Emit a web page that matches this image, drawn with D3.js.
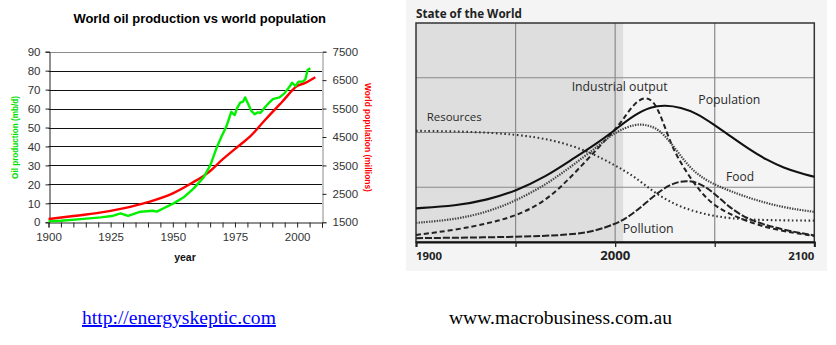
<!DOCTYPE html>
<html><head><meta charset="utf-8">
<script src="https://cdn.jsdelivr.net/npm/d3@7"></script>
<style>body{margin:0;background:#fff}svg{display:block}</style>
</head><body>
<svg id="c" width="836" height="345"></svg>
<script>
// ---------- Left chart data ----------
const oilYears = [1900,1905,1913,1921,1925.5,1929,1932,1937,1942,1943.6,1946.3,1950.3,1954.4,1958.4,1962.4,1965.1,1967.8,1969.5,1971.5,1973.5,1974.9,1975.8,1977.1,1978.2,1979.1,1980.5,1981.5,1982.9,1984.2,1985.3,1986.9,1988.9,1990.2,1992.9,1994.9,1996.9,1998,1999.3,2000.6,2002.2,2003.3,2004.2,2005.3];
const oilValues = [0.5,0.8,1.7,2.6,3.3,4.7,3.4,5.6,6.1,5.6,7.4,10.0,13.2,17.9,23.7,30.2,39.9,45,50.4,58.3,56.6,60.1,63.1,63.6,65.9,61.9,58.9,57,58,57.8,60.4,63.3,65,65.9,68,71.5,73.6,71.9,74.2,74.2,75.4,80.3,81.2];
const popYears = [1900,1910,1920,1930,1940,1950,1958,1964,1970,1977,1981,1987,1994,2000,2003.5,2007.3];
const popValues = [1616,1720,1830,1990,2210,2520,2900,3230,3710,4220,4510,5090,5740,6290,6410,6600];
const oilTicks = [0,10,20,30,40,50,60,70,80,90];
const popTicks = [1500,2500,3500,4500,5500,6500,7500];
const yearTicks = [1900,1925,1950,1975,2000];

// ---------- Right chart data (State of the World) ----------
const sowYears = {
  population:[1900,1920,1936,1950,1965,1978,1992,2000,2010,2018,2025,2033,2041,2049,2058,2067,2076,2085,2092,2100],
  food:[1900,1920,1936,1950,1965,1978,1992,2000,2010,2016,2022,2027,2032,2037,2043,2050,2067,2084,2100],
  industrial:[1900,1920,1936,1950,1965,1978,1992,2000,2005,2010,2015,2019,2022,2025,2029,2035,2042,2050,2064,2080,2100],
  pollution:[1900,1950,1978,1990,2000,2005,2010,2015,2020,2028,2036,2042,2049,2057,2067,2084,2100],
  resources:[1900,1925,1950,1970,1987,2000,2010,2020,2033,2050,2067,2100]
};
const sowValues = {
  population:[0.615,0.66,0.77,0.93,1.19,1.50,1.83,2.05,2.33,2.47,2.50,2.46,2.35,2.16,1.93,1.70,1.50,1.35,1.27,1.19],
  food:[0.35,0.41,0.55,0.75,1.04,1.38,1.77,2.01,2.16,2.14,2.06,1.85,1.62,1.38,1.19,1.04,0.80,0.63,0.55],
  industrial:[0.13,0.22,0.34,0.47,0.74,1.19,1.74,2.05,2.29,2.55,2.65,2.58,2.38,2.10,1.70,1.32,0.95,0.64,0.40,0.22,0.11],
  pollution:[0.07,0.09,0.13,0.20,0.33,0.42,0.55,0.70,0.86,1.07,1.13,1.08,0.92,0.64,0.40,0.22,0.12],
  resources:[2.03,2.02,1.97,1.86,1.65,1.40,1.19,0.89,0.62,0.46,0.40,0.39]
};
const sowLabels = ["Resources","Industrial output","Population","Food","Pollution"];
const sowYearTicks = [1900,2000,2100];

const svg = d3.select("#c");
function fit(sel, w){ const n=sel.node(); const L=n.getComputedTextLength(); const fs=parseFloat(sel.attr("font-size")); sel.attr("font-size", fs*w/L); return sel; }

// ================= LEFT CHART =================
const L = svg.append("g");
const xL = d3.scaleLinear().domain([1900,2010]).range([48.5,322]);
const yL = d3.scaleLinear().domain([0,90]).range([222.3,51.7]);
const yR = d3.scaleLinear().domain([1500,7500]).range([222.3,51.7]);

// gridlines
L.append("g").selectAll("line").data(oilTicks.filter(d=>d>0)).join("line")
  .attr("x1",xL(1900)).attr("x2",xL(2010))
  .attr("y1",d=>Math.round(yL(d))+0.5).attr("y2",d=>Math.round(yL(d))+0.5)
  .attr("stroke",d=>d===90?"#8c8c8c":"#111").attr("stroke-width",1.1);

// left axis
const axL = L.append("g").attr("transform",`translate(${Math.round(xL(1900))+0.5},0)`)
  .call(d3.axisLeft(yL).tickValues(oilTicks).tickSize(4).tickPadding(5));
// right axis
const axR = L.append("g").attr("transform",`translate(${Math.round(xL(2010))+0.5},0)`)
  .call(d3.axisRight(yR).tickValues(popTicks).tickSize(4).tickPadding(6).tickFormat(d3.format("d")));
// bottom axis
const axB = L.append("g").attr("transform",`translate(0,${Math.round(yL(0))+0.5})`)
  .call(d3.axisBottom(xL).tickValues(d3.range(1900,2011,5)).tickSize(5).tickPadding(4)
    .tickFormat(d=>yearTicks.includes(d)?d:""));
[axL,axR,axB].forEach(a=>{
  a.select(".domain").attr("stroke","#222");
  a.selectAll(".tick line").attr("stroke","#222");
  a.selectAll("text").attr("font-family","Liberation Sans, Arial, sans-serif").attr("font-size",11.5).attr("fill","#333");
});
axR.select(".domain").attr("stroke","#8a8a8a");
axB.selectAll("text").attr("dy","0.85em");

// lines
L.append("path").datum(popYears.map((y,i)=>[y,popValues[i]]))
  .attr("d",d3.line().x(d=>xL(d[0])).y(d=>yR(d[1])).curve(d3.curveMonotoneX))
  .attr("fill","none").attr("stroke","#ff0000").attr("stroke-width",2.4);
L.append("path").datum(oilYears.map((y,i)=>[y,oilValues[i]]))
  .attr("d",d3.line().x(d=>xL(d[0])).y(d=>yL(d[1])))
  .attr("fill","none").attr("stroke","#00f000").attr("stroke-width",2.4).attr("stroke-linejoin","round");

// titles
fit(L.append("text").attr("x",199.7).attr("y",23).attr("text-anchor","middle")
  .attr("font-family","Liberation Sans, Arial, sans-serif").attr("font-weight","bold").attr("font-size",12)
  .attr("fill","#000").text("World oil production vs world population"),253);
fit(L.append("text").attr("transform","translate(18,137.5) rotate(-90)").attr("text-anchor","middle")
  .attr("font-family","Liberation Sans, Arial, sans-serif").attr("font-weight","bold").attr("font-size",8)
  .attr("fill","#00e000").text("Oil production (mb/d)"),83);
fit(L.append("text").attr("transform","translate(364.5,137.5) rotate(90)").attr("text-anchor","middle")
  .attr("font-family","Liberation Sans, Arial, sans-serif").attr("font-weight","bold").attr("font-size",8)
  .attr("fill","#ff0000").text("World population (millions)"),109);
L.append("text").attr("x",185).attr("y",261).attr("text-anchor","middle")
  .attr("font-family","Liberation Sans, Arial, sans-serif").attr("font-weight","bold").attr("font-size",10.5)
  .attr("fill","#111").text("year");

// ================= RIGHT CHART =================
const R = svg.append("g");
const xS = d3.scaleLinear().domain([1900,2100]).range([416,814.3]);
const yS = d3.scaleLinear().domain([0,4]).range([242,23]);

R.append("rect").attr("x",406).attr("y",0).attr("width",421).attr("height",271).attr("fill","#f4f4f4");
R.append("rect").attr("x",xS(1900)).attr("y",yS(4)).attr("width",xS(2004)-xS(1900)).attr("height",yS(0)-yS(4)).attr("fill","#dedede");
// gridlines
R.append("g").selectAll("line").data([1,2,3]).join("line")
  .attr("x1",xS(1900)).attr("x2",xS(2100)).attr("y1",d=>yS(d)).attr("y2",d=>yS(d))
  .attr("stroke","#8a8a8a").attr("stroke-width",1.2);
R.append("g").selectAll("line").data([1950,2000,2050]).join("line")
  .attr("x1",d=>xS(d)).attr("x2",d=>xS(d)).attr("y1",yS(4)).attr("y2",yS(0))
  .attr("stroke","#8a8a8a").attr("stroke-width",1.2);
// frame
R.append("rect").attr("x",xS(1900)).attr("y",yS(4)).attr("width",xS(2100)-xS(1900)).attr("height",yS(0)-yS(4))
  .attr("fill","none").attr("stroke","#333").attr("stroke-width",1.5);
// bottom axis
const axS = R.append("g").attr("transform",`translate(0,${yS(0)})`)
  .call(d3.axisBottom(xS).tickValues([1900,1950,2000,2050,2100]).tickSize(5).tickFormat(""));
axS.select(".domain").attr("stroke","#111").attr("stroke-width",2);
axS.selectAll(".tick line").attr("stroke","#222").attr("stroke-width",1.3);
const ylab = R.append("g");
sowYearTicks.forEach((d,i)=>{
  fit(ylab.append("text").attr("x",xS(d)).attr("y",260)
    .attr("text-anchor",i===0?"start":i===2?"end":"middle")
    .attr("font-family","Open Sans, sans-serif").attr("font-weight","bold").attr("font-size",10)
    .attr("fill","#222").text(d), i===1?30:26);
});
fit(R.append("text").attr("x",416).attr("y",18).attr("font-family","Open Sans, sans-serif").attr("font-weight","bold")
  .attr("font-size",11).attr("fill","#222").text("State of the World"),106);

const lineS = d3.line().x(d=>xS(d[0])).y(d=>yS(d[1])).curve(d3.curveBasis);
const styles = {
  resources:{dash:"1.6,2.6",w:2.1,cap:"butt",col:"#333"},
  pollution:{dash:"7,2",w:2,cap:"butt",col:"#222"},
  industrial:{dash:"5,3",w:2,cap:"butt",col:"#222"},
  food:{dash:"1.4,1.2",w:2.2,cap:"butt",col:"#444"},
  population:{dash:null,w:2.1,cap:"butt",col:"#111"}
};
["resources","pollution","industrial","food","population"].forEach(k=>{
  const s=styles[k];
  R.append("path").datum(sowYears[k].map((y,i)=>[y,sowValues[k][i]]))
    .attr("d",lineS).attr("fill","none").attr("stroke",s.col).attr("stroke-width",s.w)
    .attr("stroke-dasharray",s.dash).attr("stroke-linecap",s.cap);
});
const labPos = [[426.7,121,55],[571.7,90.5,96],[698.3,104,62],[726,181,28],[622.7,233,51]];
sowLabels.forEach((t,i)=>{
  fit(R.append("text").attr("x",labPos[i][0]).attr("y",labPos[i][1])
    .attr("font-family","Open Sans, sans-serif").attr("font-size",11).attr("fill","#2a2a2a").text(t), labPos[i][2]);
});

// ================= FOOTER =================
fit(svg.append("text").attr("x",82).attr("y",324).attr("font-family","Liberation Serif, Times New Roman, serif")
  .attr("font-size",17).attr("fill","#0000ff").attr("text-decoration","underline").text("http://energyskeptic.com"),194);
fit(svg.append("text").attr("x",449).attr("y",324).attr("font-family","Liberation Serif, Times New Roman, serif")
  .attr("font-size",17).attr("fill","#000").text("www.macrobusiness.com.au"),223);
</script>
</body></html>
